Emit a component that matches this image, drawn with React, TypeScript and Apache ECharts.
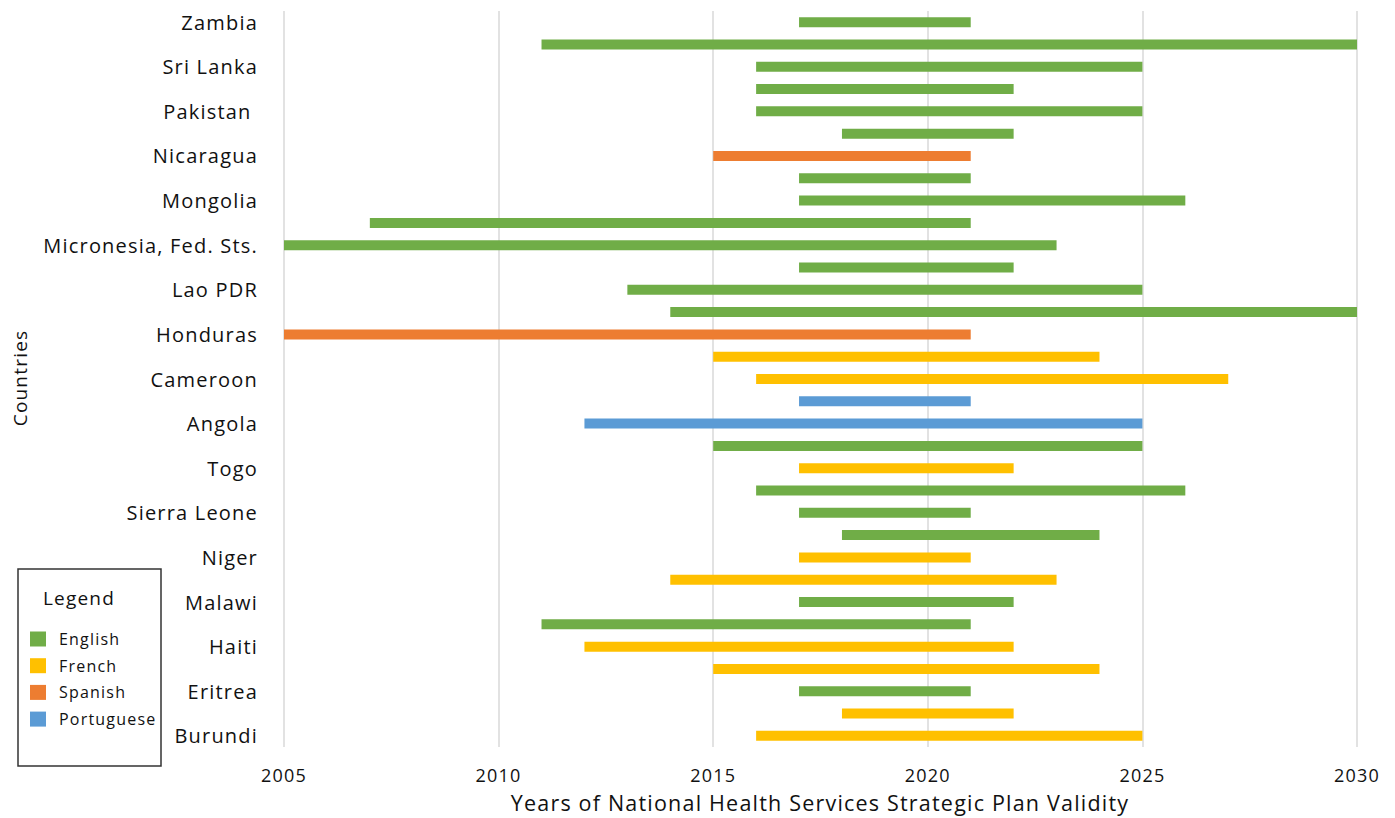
import React, { useEffect, useRef } from "react";
import * as echarts from "echarts";

// Categories from bottom to top (every other label is hidden, as in the reference)
const countries = [
  "Burundi", "Chad", "Eritrea", "Guinea", "Haiti", "Liberia", "Malawi", "Mali",
  "Niger", "Rwanda", "Sierra Leone", "South Sudan", "Togo", "Uganda", "Angola",
  "Cabo Verde", "Cameroon", "Côte d'Ivoire", "Honduras", "Kenya", "Lao PDR",
  "Lesotho", "Micronesia, Fed. Sts.", "Moldova", "Mongolia", "Myanmar",
  "Nicaragua", "Nigeria", "Pakistan ", "Papua New Guinea", "Sri Lanka",
  "Timor-Leste", "Zambia",
];
const startYears = [
  2016, 2018, 2017, 2015, 2012, 2011, 2017, 2014, 2017, 2018, 2017, 2016, 2017,
  2015, 2012, 2017, 2016, 2015, 2005, 2014, 2013, 2017, 2005, 2007, 2017, 2017,
  2015, 2018, 2016, 2016, 2016, 2011, 2017,
];
const endYears = [
  2025, 2022, 2021, 2024, 2022, 2021, 2022, 2023, 2021, 2024, 2021, 2026, 2022,
  2025, 2025, 2021, 2027, 2024, 2021, 2030, 2025, 2022, 2023, 2021, 2026, 2021,
  2021, 2022, 2025, 2022, 2025, 2030, 2021,
];
const languages = [
  "French", "French", "English", "French", "French", "English", "English", "French",
  "French", "English", "English", "English", "French", "English", "Portuguese",
  "Portuguese", "French", "French", "Spanish", "English", "English", "English",
  "English", "English", "English", "English", "Spanish", "English", "English",
  "English", "English", "English", "English",
];
const languageNames = ["English", "French", "Spanish", "Portuguese"];
const languageColors = ["#70AD47", "#FFC000", "#ED7D31", "#5B9BD5"];
const xTicks = { min: 2005, max: 2030, interval: 5 };

const FONT = "'Open Sans', 'Noto Sans', sans-serif";
const TEXT = "#111111";

export default function App() {
  const ref = useRef<HTMLDivElement>(null);
  useEffect(() => {
    if (!ref.current) return;
    const chart = echarts.init(ref.current, null, { renderer: "svg" });
    const langSeries = languageNames.map((lang, li) => ({
      name: lang,
      type: "bar",
      stack: "range",
      barWidth: 10,
      itemStyle: { color: languageColors[li] },
      data: countries.map((_, i) =>
        languages[i] === lang ? endYears[i] - startYears[i] : "-"
      ),
    }));
    chart.setOption({
      animation: false,
      textStyle: { fontFamily: FONT },
      grid: { left: 284, right: 38, top: 11, bottom: 71, containLabel: false },
      xAxis: {
        type: "value",
        min: xTicks.min,
        max: xTicks.max,
        interval: xTicks.interval,
        axisLine: { show: false },
        axisTick: { show: false },
        splitLine: { lineStyle: { color: "#d9d9d9", width: 1.5 } },
        axisLabel: {
          color: TEXT,
          fontSize: 18,
          margin: 19,
          fontFamily: FONT,
          formatter: (v: number) => String(v),
        },
      },
      yAxis: {
        type: "category",
        data: countries,
        axisLine: { show: false },
        axisTick: { show: false },
        splitLine: { show: false },
        axisLabel: { interval: 1, color: TEXT, fontSize: 20, margin: 26, fontFamily: FONT },
      },
      legend: {
        data: languageNames,
        orient: "vertical",
        left: 30,
        top: 631,
        padding: 0,
        itemWidth: 16,
        itemHeight: 15,
        itemGap: 10.7,
        icon: "rect",
        textStyle: {
          fontSize: 16,
          lineHeight: 15,
          color: TEXT,
          fontFamily: FONT,
          padding: [0, 0, 0, 8],
        },
      },
      graphic: [
        {
          type: "rect",
          shape: { x: 18, y: 569, width: 143, height: 197 },
          style: { fill: "none", stroke: "#333", lineWidth: 1.5 },
        },
        {
          type: "text",
          x: 43,
          y: 598,
          style: {
            text: "Legend",
            fontSize: 19,
            fontFamily: FONT,
            fill: TEXT,
            textVerticalAlign: "middle",
          },
        },
        {
          type: "text",
          x: 20,
          y: 378,
          rotation: Math.PI / 2,
          style: {
            text: "Countries",
            fontSize: 19,
            fontFamily: FONT,
            fill: TEXT,
            textAlign: "center",
            textVerticalAlign: "middle",
          },
        },
        {
          type: "text",
          x: 820,
          y: 802,
          style: {
            text: "Years of National Health Services Strategic Plan Validity",
            fontSize: 21.5,
            fontFamily: FONT,
            fill: TEXT,
            textAlign: "center",
            textVerticalAlign: "middle",
          },
        },
      ],
      series: [
        {
          name: "start",
          type: "bar",
          stack: "range",
          barWidth: 10,
          itemStyle: { color: "transparent" },
          emphasis: { disabled: true },
          data: startYears,
        },
        ...langSeries,
      ],
    });
    return () => chart.dispose();
  }, []);
  return (
    <div
      ref={ref}
      style={{
        position: "absolute",
        left: 0,
        top: 0,
        width: 1395,
        height: 818,
        letterSpacing: "1.2px",
      }}
    />
  );
}
